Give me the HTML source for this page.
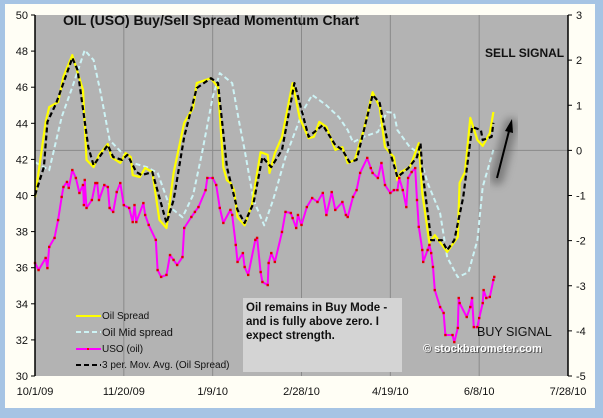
<!DOCTYPE html>
<html><head><meta charset="utf-8"><style>
html,body{margin:0;padding:0;}
body{width:603px;height:413px;overflow:hidden;background:#a6c4e4;font-family:"Liberation Sans",Arial,sans-serif;}
</style></head><body>
<svg id="chart" width="603" height="413" viewBox="0 0 603 413" xmlns="http://www.w3.org/2000/svg" font-family="Liberation Sans, Arial, sans-serif">
<defs><filter id="glow" x="-50%" y="-50%" width="200%" height="200%"><feGaussianBlur stdDeviation="4"/></filter></defs>
<rect x="5" y="4" width="590" height="404" fill="#fffef5"/>
<rect x="35" y="15" width="533" height="361" fill="#b3b3b3"/>
<g id="grid"></g>
<g id="series"></g>
<g id="axes"></g>
<text x="63" y="25" font-size="14" font-weight="bold" fill="#111">OIL (USO) Buy/Sell Spread Momentum Chart</text>
<text x="485" y="57" font-size="12" font-weight="bold" fill="#111">SELL SIGNAL</text>
<text x="477" y="336" font-size="12.5" fill="#111">BUY SIGNAL</text>
<g font-size="11" font-weight="bold">
<text x="424" y="353" fill="#555">© stockbarometer.com</text>
<text x="423" y="352" fill="#fff">© stockbarometer.com</text>
</g>
<g>
<line x1="497" y1="178" x2="511" y2="125" stroke="#666" stroke-width="14" stroke-linecap="round" filter="url(#glow)" opacity="0.7"/>
<line x1="497" y1="178" x2="509" y2="131" stroke="#000" stroke-width="2"/>
<polygon points="512,119 505,131 513,133" fill="#000"/>
</g>
<g>
<rect x="243" y="298" width="159" height="74" fill="#d4d4d4"/>
<text font-size="11.5" font-weight="bold" fill="#111"><tspan x="246" y="311">Oil remains in Buy Mode -</tspan><tspan x="246" y="325">and is fully above zero.  I</tspan><tspan x="246" y="339">expect strength.</tspan></text>
</g>
<g font-size="10" fill="#111">
<g><line x1="76" y1="316" x2="101" y2="316" stroke="#ffff00" stroke-width="2"/><text x="102" y="319">Oil Spread</text></g>
<g><line x1="76" y1="332" x2="101" y2="332" stroke="#cdf3f5" stroke-width="2" stroke-dasharray="5,3"/><text x="102" y="336" font-size="11">Oil Mid spread</text></g>
<g><line x1="76" y1="349" x2="101" y2="349" stroke="#ff00ff" stroke-width="2"/><rect x="87" y="348" width="2" height="2" fill="red"/><text x="102" y="352">USO (oil)</text></g>
<g><line x1="76" y1="365" x2="101" y2="365" stroke="#000" stroke-width="2" stroke-dasharray="5,3"/><text x="102" y="368">3 per. Mov. Avg. (Oil Spread)</text></g>
</g>
</svg>
<script>
const xTickLabels = ["10/1/09","11/20/09","1/9/10","2/28/10","4/19/10","6/8/10","7/28/10"];
const leftTicks = [30,32,34,36,38,40,42,44,46,48,50];
const rightTicks = [-5,-4,-3,-2,-1,0,1,2,3];
const spreadDays = [0,3,6,8,13,16,21,27,29,33,36,41,43,48,51,54,55,59,62,66,70,74,78,84,89,91,99,103,106,108,110,112,114,118,122,127,131,132,135,139,145,149,154,157,160,164,169,173,176,180,185,190,194,197,202,204,206,211,216,218,222,225,232,238,239,242,245,249,252,256,258];
const spreadVals = [-1.04,-0.21,0.63,0.96,1.07,1.63,2.11,1.34,-0.21,-0.37,-0.10,0.14,-0.15,-0.28,-0.06,-0.15,-0.55,-0.59,-0.39,-0.48,-1.54,-1.72,-0.50,0.61,0.94,1.49,1.60,1.40,-0.37,-0.66,-0.72,-0.88,-1.48,-1.66,-1.21,-0.04,-0.10,-0.50,-0.06,0.30,1.49,0.72,0.27,0.30,0.63,0.52,0.01,0.07,-0.28,-0.21,0.45,1.29,0.96,0.07,-0.15,-0.66,-0.48,-0.37,0.16,-0.95,-2.05,-1.88,-2.25,-1.92,-0.72,-0.48,0.72,0.23,0.10,0.38,0.85];
const avgDays = [0,5,7,12,21,24,30,33,41,44,49,52,57,60,66,74,78,84,91,99,103,108,114,118,123,128,133,139,146,154,162,169,173,177,181,190,194,199,204,210,215,217,218,223,229,232,236,241,246,251,252,257,258];
const avgVals = [-0.99,-0.37,0.63,1.05,2.05,1.78,0.07,-0.33,0.12,-0.15,-0.21,-0.10,-0.48,-0.55,-0.48,-1.61,-1.10,0.30,1.38,1.60,1.49,-0.37,-1.32,-1.61,-1.17,-0.15,-0.37,0.01,1.49,0.30,0.56,0.12,0.01,-0.26,-0.21,1.23,1.05,0.07,-0.59,-0.40,-0.15,0.16,-0.44,-1.99,-1.99,-2.21,-1.99,-1.04,0.52,0.45,0.23,0.30,0.61];
const midDays = [0,8,15,21,28,33,37,42,49,55,63,69,76,83,89,94,100,104,111,115,118,123,129,134,141,151,156,164,171,176,179,185,193,198,202,204,211,216,221,228,232,238,244,249,252,258];
const midVals = [-0.26,-0.44,0.74,1.40,2.22,2.00,1.27,0.23,-0.06,-0.28,-0.37,-0.50,-1.26,-1.48,-0.99,-0.06,1.18,1.71,1.49,0.61,0.01,-1.10,-1.66,-1.10,-0.15,0.89,1.23,1.00,0.74,0.45,0.18,0.30,0.41,0.85,0.83,0.45,0.07,-0.06,-0.72,-1.39,-2.37,-2.81,-2.70,-1.99,-0.81,0.01];
const usoDays = [0,2,6,7,8,11,13,15,16,18,19,21,23,25,27,27.5,28,29,32,34,35,36,39,41,42,44,46,48,50,53,55,56,57,61,62,64,68,69,71,74,76,78,80,83,84,88,90,92,96,97,100,102,104,106,110,111,113,114,117,118,120,124,125,127,128,131,131.5,133,135,139,141,144,145,147,148,150,153,156,159,162,164,167,169,173,175,176,179,181,183,187,189,190,193,195,197,200,202,204,205,207,209,210,212,214,215,216,218,218.5,221,222,223,224,225,228,230,231,235,236,238,238.5,239,243,245,246,247,249,250,252,252.5,254,256,258,258.5];
const usoVals = [36.26,35.87,36.54,35.98,37.15,37.65,38.64,39.92,40.47,40.75,40.42,41.41,40.97,40.14,40.58,39.47,40.86,39.31,39.75,40.69,40.69,39.75,40.58,40.47,39.31,39.09,40.19,40.69,39.47,39.31,38.53,39.47,38.53,39.58,38.92,38.37,37.54,35.87,35.49,35.60,36.70,36.43,36.15,36.59,38.20,38.81,39.09,39.36,40.30,40.97,40.97,40.58,39.31,38.48,39.20,38.92,37.26,36.32,36.81,36.04,35.60,37.54,37.65,35.76,35.21,35.04,36.26,36.81,36.32,37.98,39.09,39.03,38.75,38.20,38.92,38.37,39.36,39.86,39.64,40.14,38.92,40.19,39.20,39.64,38.92,38.81,39.92,40.30,41.25,42.08,41.52,41.25,40.97,41.80,40.58,40.14,40.30,40.30,40.97,40.30,39.36,40.97,41.30,41.52,39.75,38.26,36.98,36.32,36.98,37.26,36.81,36.04,34.76,33.82,33.49,32.27,32.27,31.88,32.66,34.32,34.04,33.27,33.82,34.32,32.71,32.71,33.21,34.04,34.76,34.32,34.38,35.32,35.49];

const NS = "http://www.w3.org/2000/svg";
const X0 = 35, X1 = 568, Y0 = 15, Y1 = 376, DAYS = 300;
function xScale(d){ return X0 + d / DAYS * (X1 - X0); }
function yLeft(v){ return Y1 - (v - 30) / 20 * (Y1 - Y0); }
function yRight(v){ return Y1 - (v + 5) / 8 * (Y1 - Y0); }
function mk(tag, attrs, parent){ const e = document.createElementNS(NS, tag); for (const k in attrs) e.setAttribute(k, attrs[k]); parent.appendChild(e); return e; }

const grid = document.getElementById('grid');
const axes = document.getElementById('axes');
const series = document.getElementById('series');

xTickLabels.forEach((lab, i) => {
  const x = xScale(i * 50);
  if (i > 0 && i < xTickLabels.length - 1) {
    const g = mk('line', {x1:x, y1:Y0, x2:x, y2:Y1, stroke:'#8a8a8a', 'stroke-width':1}, grid);
    
    
  }
  const t = mk('text', {x:x, y:395, 'font-size':11, 'text-anchor':'middle', fill:'#111'}, axes);
  t.textContent = lab;
  
  
});
const zl = mk('line', {x1:X0, y1:yRight(0), x2:X1, y2:yRight(0), stroke:'#8a8a8a', 'stroke-width':1}, grid);



const la = mk('line', {x1:X0, y1:Y0, x2:X0, y2:Y1, stroke:'#000', 'stroke-width':1.5}, axes);


const ra = mk('line', {x1:X1, y1:Y0, x2:X1, y2:Y1, stroke:'#000', 'stroke-width':1.5}, axes);



leftTicks.forEach(v => {
  const y = yLeft(v);
  mk('line', {x1:X0-4, y1:y, x2:X0, y2:y, stroke:'#000'}, axes);
  const t = mk('text', {x:28, y:y+4, 'font-size':11, 'text-anchor':'end', fill:'#111'}, axes);
  t.textContent = v;
  
  
});
rightTicks.forEach(v => {
  const y = yRight(v);
  mk('line', {x1:X1, y1:y, x2:X1+4, y2:y, stroke:'#000'}, axes);
  const t = mk('text', {x:576, y:y+4, 'font-size':11, fill:'#111'}, axes);
  t.textContent = v;
  
  
});

function line(days, vals, yf, color, dash, w, name){
  const pts = days.map((d, i) => xScale(d).toFixed(1) + ',' + yf(vals[i]).toFixed(1)).join(' ');
  const p = mk('polyline', {points:pts, fill:'none', stroke:color, 'stroke-width':w, 'stroke-linejoin':'round'}, series);
  if (dash) p.setAttribute('stroke-dasharray', dash);
  
  
}
line(midDays, midVals, yRight, '#cdf3f5', '5,3', 2, 'oil-mid-spread-line');
line(spreadDays, spreadVals, yRight, '#ffff00', null, 2.2, 'oil-spread-line');
line(avgDays, avgVals, yRight, '#000', '5,3', 2.2, 'moving-average-line');
line(usoDays, usoVals, yLeft, '#ff00ff', null, 2, 'uso-line');
usoDays.forEach((d, i) => {
  const m = mk('rect', {x:xScale(d)-1.2, y:yLeft(usoVals[i])-1.2, width:2.4, height:2.4, fill:'#e00000'}, series);
  
  
});
</script>
</body></html>
